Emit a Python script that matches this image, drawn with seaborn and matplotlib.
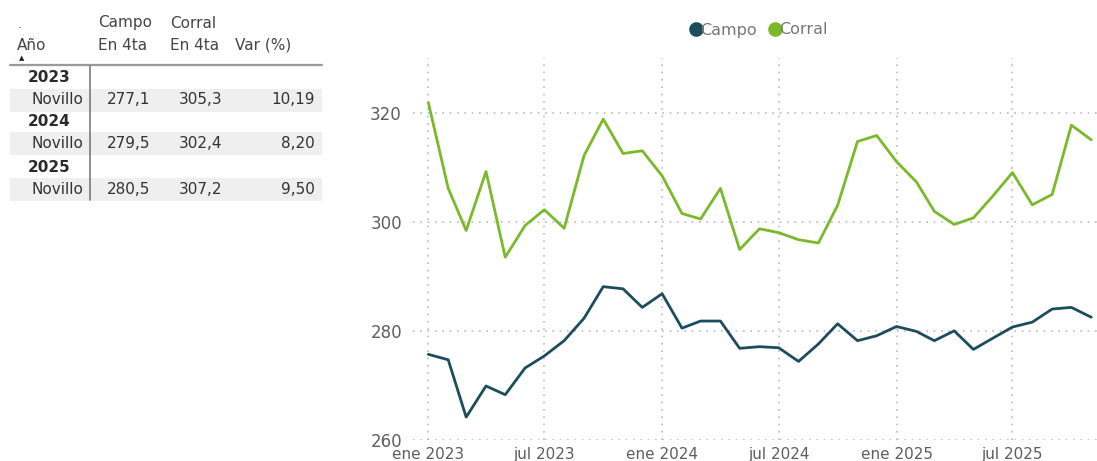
import numpy as np
import pandas as pd
import matplotlib
matplotlib.use("Agg")
import matplotlib.pyplot as plt
import matplotlib.dates as mdates
from matplotlib.patches import Rectangle
from matplotlib.lines import Line2D
import seaborn as sns

# ---------------- data ----------------
months = pd.date_range("2023-01-01", "2025-11-01", freq="MS")
campo = [275.7, 274.7, 264.2, 269.9, 268.3, 273.2, 275.4, 278.2, 282.3, 288.1,
         287.7, 284.3, 286.8, 280.5, 281.8, 281.8, 276.8, 277.1, 276.9, 274.4,
         277.6, 281.3, 278.2, 279.1, 280.8, 279.9, 278.2, 280.0, 276.6, 278.7,
         280.7, 281.6, 284.0, 284.3, 282.5]
corral = [321.8, 306.1, 298.4, 309.2, 293.5, 299.3, 302.2, 298.8, 312.1, 318.8,
          312.5, 313.0, 308.4, 301.5, 300.5, 306.1, 294.9, 298.7, 298.0, 296.7,
          296.1, 303.0, 314.7, 315.8, 311.0, 307.3, 301.9, 299.5, 300.7, 304.8,
          309.0, 303.1, 305.0, 317.7, 315.0]
series_names = ["Campo", "Corral"]
series_colors = {"Campo": "#1B4D5C", "Corral": "#7AB929"}

yticks = [260, 280, 300, 320]
xtick_dates = pd.to_datetime(["2023-01-01", "2023-07-01", "2024-01-01",
                              "2024-07-01", "2025-01-01", "2025-07-01"])
xtick_labels = ["ene 2023", "jul 2023", "ene 2024", "jul 2024", "ene 2025", "jul 2025"]

# table data
tbl_years = ["2023", "2024", "2025"]
tbl_cat = ["Novillo", "Novillo", "Novillo"]
tbl_campo = [277.1, 279.5, 280.5]
tbl_corral = [305.3, 302.4, 307.2]
tbl_var = [10.19, 8.20, 9.50]

df = pd.DataFrame({
    "fecha": list(months) * 2,
    "valor": campo + corral,
    "serie": ["Campo"] * len(campo) + ["Corral"] * len(corral),
})

# ---------------- figure ----------------
sns.set_theme(style="white")
plt.rcParams["font.family"] = ["DejaVu Sans"]
W, H = 1097, 461
fig = plt.figure(figsize=(W / 100, H / 100), dpi=100)
fig.patch.set_facecolor("white")

def fx(x):
    return x / W

def fy(y):
    return 1 - y / H

ax = fig.add_axes([fx(413), fy(440), fx(1097 - 413), (440 - 58) / H])
sns.lineplot(data=df, x="fecha", y="valor", hue="serie", palette=series_colors,
             linewidth=2.0, ax=ax, legend=False)

ax.set_ylim(260, 330)
ax.set_xlim(pd.Timestamp("2022-12-08"), pd.Timestamp("2025-11-10"))
ax.set_yticks(yticks)
ax.set_yticklabels([str(v) for v in yticks])
ax.set_xticks(xtick_dates)
ax.set_xticklabels(xtick_labels)
ax.set_xlabel("")
ax.set_ylabel("")
for s in ax.spines.values():
    s.set_visible(False)
ax.grid(True, axis="both", color="#BBBBBB", linewidth=1.2, linestyle=(0, (1, 3.4)))
ax.set_axisbelow(True)
ax.tick_params(axis="y", length=0, pad=8, labelsize=12, labelcolor="#605E5C")
ax.tick_params(axis="x", length=0, pad=5, labelsize=11, labelcolor="#605E5C")
ax.set_facecolor("white")

# legend
handles = [Line2D([0], [0], marker="o", color="none", markerfacecolor=series_colors[n],
                  markeredgecolor=series_colors[n], markersize=9.5, label=n)
           for n in series_names]
fig.legend(handles=handles, loc="center", bbox_to_anchor=(fx(757), fy(30)), ncol=2,
           frameon=False, fontsize=11.5, labelcolor="#777777", handletextpad=-0.3,
           columnspacing=0.5, handlelength=1.2)

# ---------------- table ----------------
txt_col = "#333333"
hdr_col = "#444444"
fs = 11
# header
fig.text(fx(18), fy(24), ".", fontsize=9, color=hdr_col, ha="left", va="center")
fig.text(fx(17), fy(45), "Año", fontsize=fs, color=hdr_col, ha="left", va="center")
fig.text(fx(22), fy(58), "▲", fontsize=5, color="#222222", ha="center", va="center")
fig.text(fx(98), fy(23), "Campo", fontsize=fs, color=hdr_col, ha="left", va="center")
fig.text(fx(98), fy(45), "En 4ta", fontsize=fs, color=hdr_col, ha="left", va="center")
fig.text(fx(170), fy(23), "Corral", fontsize=fs, color=hdr_col, ha="left", va="center")
fig.text(fx(170), fy(45), "En 4ta", fontsize=fs, color=hdr_col, ha="left", va="center")
fig.text(fx(235), fy(45), "Var (%)", fontsize=fs, color=hdr_col, ha="left", va="center")

# header rule
fig.add_artist(Line2D([fx(10), fx(322)], [fy(65), fy(65)], transform=fig.transFigure,
                      color="#9A9A9A", linewidth=1.6))

def fmt(v, d):
    return f"{v:.{d}f}".replace(".", ",")

year_y = [78, 122, 167]
row_y = [100, 144, 189]
for i in range(len(tbl_years)):
    top, bot = row_y[i] - 11.5, row_y[i] + 11.5
    fig.add_artist(Rectangle((fx(10), fy(bot)), fx(312), (bot - top) / H,
                             transform=fig.transFigure, facecolor="#EFEFEF",
                             edgecolor="none", zorder=0))
    fig.text(fx(28), fy(year_y[i]), tbl_years[i], fontsize=fs, fontweight="bold",
             color="#2A2A2A", ha="left", va="center")
    fig.text(fx(83), fy(row_y[i]), tbl_cat[i], fontsize=fs, color=txt_col,
             ha="right", va="center")
    fig.text(fx(150), fy(row_y[i]), fmt(tbl_campo[i], 1), fontsize=fs, color=txt_col,
             ha="right", va="center")
    fig.text(fx(222), fy(row_y[i]), fmt(tbl_corral[i], 1), fontsize=fs, color=txt_col,
             ha="right", va="center")
    fig.text(fx(315), fy(row_y[i]), fmt(tbl_var[i], 2), fontsize=fs, color=txt_col,
             ha="right", va="center")

# vertical rule
fig.add_artist(Line2D([fx(90), fx(90)], [fy(66), fy(200)], transform=fig.transFigure,
                      color="#7A7A7A", linewidth=1.2))

fig.savefig("out.png", dpi=100, facecolor="white")
